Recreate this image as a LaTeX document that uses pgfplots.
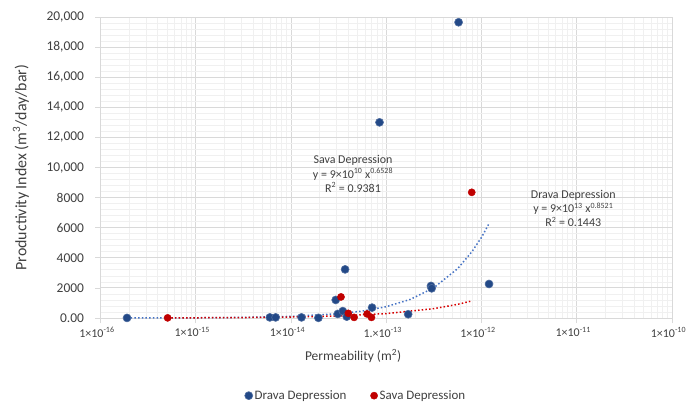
\documentclass[border=0pt]{standalone}
\usepackage{pgfplots}
\pgfplotsset{compat=1.18}
\usepackage{fontspec}
\setmainfont{Carlito}

\definecolor{dravablue}{RGB}{35,73,135}
\definecolor{savared}{RGB}{192,0,0}
\definecolor{dravatrend}{RGB}{68,114,196}
\definecolor{savatrend}{RGB}{215,0,0}
\definecolor{gridmaj}{RGB}{217,217,217}
\definecolor{gridmin}{RGB}{240,240,240}
\definecolor{txt}{RGB}{64,64,64}

\begin{document}
\begin{tikzpicture}
% fixed page frame, the axis box sits at (0,0)
\path[use as bounding box] (-100.5bp,-90bp) rectangle (586.5bp,318bp);
\begin{axis}[
    at={(0,0)}, anchor=south west,
    scale only axis,
    width=571.5bp, height=301bp,
    xmode=log,
    xmin=1e-16, xmax=1e-10,
    ymin=0, ymax=20000,
    scaled y ticks=false,
    xtick={1e-16,1e-15,1e-14,1e-13,1e-12,1e-11,1e-10},
    xticklabels={1×10\textsuperscript{-16},1×10\textsuperscript{-15},1×10\textsuperscript{-14},1.×10\textsuperscript{-13},1×10\textsuperscript{-12},1×10\textsuperscript{-11},1×10\textsuperscript{-10}},
    ytick={0,2000,4000,6000,8000,10000,12000,14000,16000,18000,20000},
    yticklabels={0.00,2000,4000,6000,8000,{10,000},{12,000},{14,000},{16,000},{18,000},{20,000}},
    minor y tick num=4,
    grid=both,
    major grid style={gridmaj, line width=0.9pt},
    minor grid style={gridmin, line width=0.7pt},
    axis line style={gridmaj, line width=0.9pt},
    tick align=outside,
    major tick length=5bp,
    minor tick length=0pt,
    tick style={gridmaj, line width=0.8pt},
    xtick pos=bottom, ytick pos=left,
    xticklabel style={font=\fontsize{12}{14}\selectfont, text=txt, yshift=-1bp, xshift=-3.5bp},
    yticklabel style={font=\fontsize{13.5}{15}\selectfont, text=txt, xshift=-8bp},
    xlabel={Permeability (m\textsuperscript{2})},
    ylabel={Productivity Index (m\textsuperscript{3}/day/bar)},
    xlabel style={font=\fontsize{13.5}{15}\selectfont, text=txt, at={(axis description cs:0.442,0)}, anchor=north, yshift=-28bp},
    ylabel style={font=\fontsize{16}{18}\selectfont, text=txt, at={(axis description cs:0,0.5)}, anchor=south, xshift=0bp, yshift=68bp},
    legend columns=2,
    legend style={draw=none, fill=none, font=\fontsize{13}{15}\selectfont, text=txt,
        at={(axis description cs:0.447,-0.258)}, anchor=center,
        /tikz/every even column/.append style={column sep=22bp}},
    legend image code/.code={\draw[#1] plot coordinates {(0bp,0bp)};},
    clip=false,
]

% Drava Depression
\addplot[only marks, mark=*, mark size=4bp, color=dravablue, mark options={draw=dravablue!80!white, line width=0.6pt}] coordinates {
    (1.9e-16, 5)
    (6.0e-15, 40)
    (6.9e-15, 40)
    (1.29e-14, 40)
    (1.94e-14, 10)
    (2.95e-14, 1200)
    (3.1e-14, 270)
    (3.5e-14, 460)
    (3.7e-14, 3230)
    (3.85e-14, 90)
    (7.1e-14, 690)
    (8.5e-14, 13000)
    (1.7e-13, 250)
    (2.95e-13, 2130)
    (3.0e-13, 1970)
    (5.75e-13, 19650)
    (1.2e-12, 2260)
};
\addlegendentry{Drava Depression}

% Sava Depression
\addplot[only marks, mark=*, mark size=3.6bp, color=savared] coordinates {
    (5.07e-16, 10)
    (3.35e-14, 1400)
    (4.0e-14, 310)
    (4.6e-14, 40)
    (6.3e-14, 270)
    (7.0e-14, 40)
    (7.9e-13, 8350)
};
\addlegendentry{Sava Depression}

% Drava trendline
\addplot[dravatrend, line width=1.5pt, dash pattern=on 1.5pt off 2.2pt, forget plot] coordinates {
    (1.9e-16, 3.6)
    (1e-15, 14.9)
    (3.16e-15, 39.7)
    (1e-14, 106)
    (3.16e-14, 282)
    (5.62e-14, 461)
    (1e-13, 753)
    (1.78e-13, 1230)
    (3.16e-13, 2009)
    (5.62e-13, 3280)
    (7.94e-13, 4405)
    (1e-12, 5353)
    (1.2e-12, 6270)
};

% Sava trendline
\addplot[savatrend, line width=1.5pt, dash pattern=on 1.5pt off 2.2pt, forget plot] coordinates {
    (5.07e-16, 9.3)
    (1e-15, 14.5)
    (3.16e-15, 30.8)
    (1e-14, 65.3)
    (3.16e-14, 138)
    (1e-13, 294)
    (3.16e-13, 622)
    (5.62e-13, 906)
    (7.9e-13, 1135)
};

\node[align=center, font=\fontsize{12}{14.3}\selectfont, text=txt] at (axis cs:4.48e-14,9568)
    {Sava Depression\\y = 9×10\textsuperscript{10} x\textsuperscript{0.6528}\\R\textsuperscript{2} = 0.9381};
\node[align=center, font=\fontsize{12}{14.3}\selectfont, text=txt] at (axis cs:9.2e-12,7289)
    {Drava Depression\\y = 9×10\textsuperscript{13} x\textsuperscript{0.8521}\\R\textsuperscript{2} = 0.1443};

\end{axis}
\end{tikzpicture}
\end{document}
